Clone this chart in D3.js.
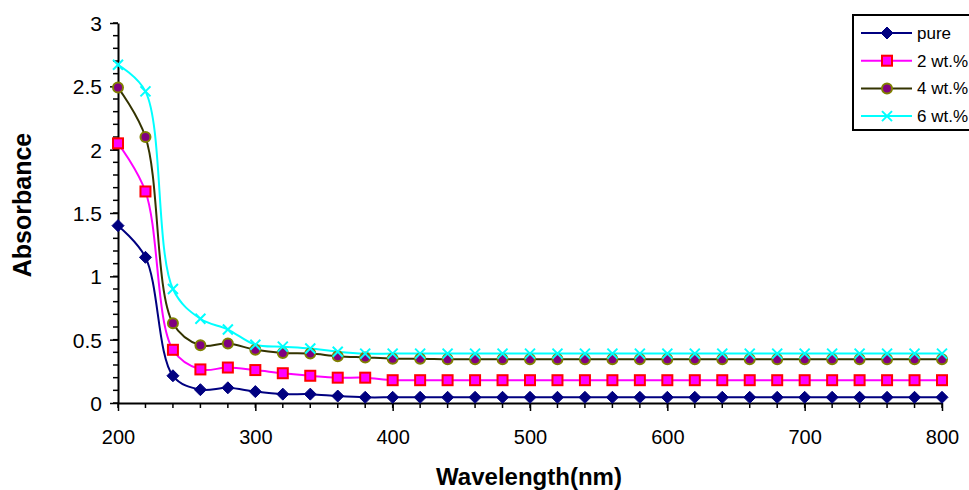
<!DOCTYPE html>
<html><head><meta charset="utf-8">
<script src="https://cdn.jsdelivr.net/npm/d3@7"></script>
<style>body{margin:0;background:#fff}svg{display:block;font-family:"Liberation Sans",Arial,sans-serif}</style>
</head><body>
<svg id="c" width="969" height="490"></svg>
<script>
const wavelengths = [200,220,240,260,280,300,320,340,360,380,400,420,440,460,480,500,520,540,560,580,600,620,640,660,680,700,720,740,760,780,800];
const pure  = [1.40,1.15,0.215,0.105,0.12,0.09,0.07,0.07,0.055,0.045,0.045,0.045,0.045,0.045,0.045,0.045,0.045,0.045,0.045,0.045,0.045,0.045,0.045,0.045,0.045,0.045,0.045,0.045,0.045,0.045,0.045];
const wt2   = [2.05,1.67,0.42,0.265,0.28,0.26,0.235,0.215,0.20,0.20,0.18,0.18,0.18,0.18,0.18,0.18,0.18,0.18,0.18,0.18,0.18,0.18,0.18,0.18,0.18,0.18,0.18,0.18,0.18,0.18,0.18];
const wt4   = [2.49,2.10,0.63,0.455,0.47,0.42,0.395,0.39,0.37,0.36,0.35,0.35,0.345,0.345,0.345,0.345,0.345,0.345,0.345,0.345,0.345,0.345,0.345,0.345,0.345,0.345,0.345,0.345,0.345,0.345,0.345];
const wt6   = [2.67,2.46,0.90,0.665,0.58,0.46,0.445,0.43,0.405,0.39,0.39,0.39,0.39,0.39,0.39,0.39,0.39,0.39,0.39,0.39,0.39,0.39,0.39,0.39,0.39,0.39,0.39,0.39,0.39,0.39,0.39];
const seriesNames = ["pure","2 wt.%","4 wt.%","6 wt.%"];
const xTicks = [200,300,400,500,600,700,800];
const yTicks = [0,0.5,1,1.5,2,2.5,3];

const series = [
  {name:seriesNames[0], values:pure, line:"#000080", marker:"diamond", fill:"#000080", stroke:"#000080"},
  {name:seriesNames[1], values:wt2,  line:"#FF00FF", marker:"square",  fill:"#FF00FF", stroke:"#FF0000"},
  {name:seriesNames[2], values:wt4,  line:"#333300", marker:"circle",  fill:"#800080", stroke:"#808000"},
  {name:seriesNames[3], values:wt6,  line:"#00FFFF", marker:"x",       fill:"none",    stroke:"#00FFFF"}
];

const svg = d3.select("#c");
const x = d3.scaleLinear().domain([200,800]).range([118,942]);
const y = d3.scaleLinear().domain([0,3]).range([403,23]);

// minor ticks
const gMinor = svg.append("g").attr("stroke","#000").attr("stroke-width",1.5);
d3.range(0,3.0001,0.1).forEach(v=>{
  gMinor.append("line").attr("x1",x(200)-5).attr("x2",x(200)).attr("y1",y(v)).attr("y2",y(v));
});
d3.range(200,800.1,20).forEach(v=>{
  gMinor.append("line").attr("x1",x(v)).attr("x2",x(v)).attr("y1",y(0)).attr("y2",y(0)+5);
});

const xAxis = svg.append("g").attr("transform",`translate(0,${y(0)})`)
  .call(d3.axisBottom(x).tickValues(xTicks).tickFormat(d3.format("d")).tickSize(8).tickSizeOuter(0));
const yAxis = svg.append("g").attr("transform",`translate(${x(200)},0)`)
  .call(d3.axisLeft(y).tickValues(yTicks).tickFormat(d=>String(d)).tickSize(8).tickSizeOuter(0));
[xAxis,yAxis].forEach(g=>{
  g.select(".domain").attr("stroke","#000").attr("stroke-width",2);
  g.selectAll(".tick line").attr("stroke","#000").attr("stroke-width",1.5);
  g.selectAll(".tick text").attr("fill","#000").style("font-family","'Liberation Sans',Arial,sans-serif");
});
xAxis.selectAll(".tick text").style("font-size","20px").attr("dy","0").attr("y",41);
yAxis.selectAll(".tick text").style("font-size","21px").attr("x",-16).attr("dy","0.35em");

const line = d3.line().curve(d3.curveCatmullRom.alpha(0.5))
  .x((d,i)=>x(wavelengths[i])).y(d=>y(d));

function drawMarker(g, type, cx, cy, s){
  if(type==="diamond"){
    g.append("path").attr("d",`M${cx},${cy-6}L${cx+6},${cy}L${cx},${cy+6}L${cx-6},${cy}Z`)
      .attr("fill",s.fill).attr("stroke",s.stroke).attr("stroke-width",1);
  } else if(type==="square"){
    g.append("rect").attr("x",cx-5).attr("y",cy-5).attr("width",10).attr("height",10)
      .attr("fill",s.fill).attr("stroke",s.stroke).attr("stroke-width",2);
  } else if(type==="circle"){
    g.append("circle").attr("cx",cx).attr("cy",cy).attr("r",5)
      .attr("fill",s.fill).attr("stroke",s.stroke).attr("stroke-width",2);
  } else {
    g.append("path").attr("d",`M${cx-5},${cy-5}L${cx+5},${cy+5}M${cx+5},${cy-5}L${cx-5},${cy+5}`)
      .attr("stroke",s.stroke).attr("stroke-width",2).attr("fill","none");
  }
}

series.forEach(s=>{
  svg.append("path").datum(s.values).attr("d",line).attr("fill","none")
    .attr("stroke",s.line).attr("stroke-width",2);
});
series.forEach(s=>{
  const g = svg.append("g");
  s.values.forEach((v,i)=>drawMarker(g,s.marker,x(wavelengths[i]),y(v),s));
});

// legend
const lg = svg.append("g");
lg.append("rect").attr("x",853).attr("y",15).attr("width",135).attr("height",115)
  .attr("fill","#fff").attr("stroke","#000").attr("stroke-width",2);
series.forEach((s,i)=>{
  const ly = 33 + i*27.7;
  lg.append("line").attr("x1",861).attr("x2",912).attr("y1",ly).attr("y2",ly)
    .attr("stroke",s.line).attr("stroke-width",2);
  drawMarker(lg,s.marker,887,ly,s);
  lg.append("text").attr("x",917).attr("y",ly).attr("dy","0.35em")
    .style("font-size","17px").attr("fill","#000").text(s.name);
});

svg.append("text").attr("x",529).attr("y",485).attr("text-anchor","middle")
  .style("font-size","24px").style("font-weight","bold").text("Wavelength(nm)");
svg.append("text").attr("transform","translate(31,205) rotate(-90)").attr("text-anchor","middle")
  .style("font-size","25px").style("font-weight","bold").text("Absorbance");
</script>
</body></html>
